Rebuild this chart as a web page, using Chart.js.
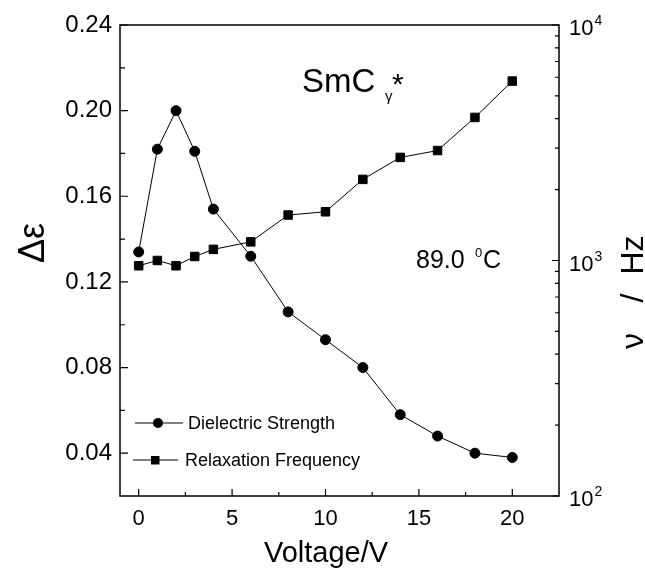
<!DOCTYPE html>
<html>
<head>
<meta charset="utf-8">
<script src="https://cdn.jsdelivr.net/npm/chart.js@4.4.0/dist/chart.umd.min.js"></script>
<style>
  html, body { margin: 0; padding: 0; background: #fff; }
  .chart-container { position: relative; width: 645px; height: 572px; }
</style>
</head>
<body>
<div class="chart-container">
    <canvas id="relaxChart"></canvas>
</div>

<script>
    // values
    const voltage = [0, 1, 2, 3, 4, 6, 8, 10, 12, 14, 16, 18, 20];
    const dielectricStrength = [0.134, 0.182, 0.200, 0.181, 0.154, 0.132, 0.106, 0.093, 0.080, 0.058, 0.048, 0.040, 0.038];
    const relaxationFreq = [950, 1000, 950, 1040, 1115, 1200, 1560, 1610, 2210, 2740, 2930, 4050, 5780];

    const bottomTicks = [0, 5, 10, 15, 20];
    const bottomMinor = [2.5, 7.5, 12.5, 17.5];
    const leftTicks = [0.04, 0.08, 0.12, 0.16, 0.20, 0.24];
    const leftMinor = [0.06, 0.10, 0.14, 0.18, 0.22];
    const rightTicks = [100, 1000, 10000];
    const rightExp = ['2', '3', '4'];

    const FONT = '"Liberation Sans", Arial, Helvetica, sans-serif';

    function toPoints(ys) {
        return voltage.map((v, i) => ({ x: v, y: ys[i] }));
    }

    // frame, inward ticks, right log labels, titles, notes and legend
    const decorations = {
        id: 'decorations',
        afterDraw(chart) {
            const ctx = chart.ctx;
            const a = chart.chartArea;
            const sx = chart.scales.x, sy = chart.scales.y, sr = chart.scales.y1;
            ctx.save();
            ctx.strokeStyle = '#000';
            ctx.fillStyle = '#000';

            ctx.lineWidth = 1.5;
            ctx.strokeRect(a.left, a.top, a.right - a.left, a.bottom - a.top);

            ctx.lineWidth = 1.2;
            ctx.beginPath();
            bottomTicks.forEach(v => { const p = sx.getPixelForValue(v); ctx.moveTo(p, a.bottom); ctx.lineTo(p, a.bottom - 7); });
            bottomMinor.forEach(v => { const p = sx.getPixelForValue(v); ctx.moveTo(p, a.bottom); ctx.lineTo(p, a.bottom - 4); });
            leftTicks.forEach(v => { const p = sy.getPixelForValue(v); ctx.moveTo(a.left, p); ctx.lineTo(a.left + 8, p); });
            leftMinor.forEach(v => { const p = sy.getPixelForValue(v); ctx.moveTo(a.left, p); ctx.lineTo(a.left + 5, p); });
            rightTicks.forEach(v => { const p = sr.getPixelForValue(v); ctx.moveTo(a.right, p); ctx.lineTo(a.right - 7, p); });
            [100, 1000].forEach(dec => {
                for (let k = 2; k <= 9; k++) {
                    const p = sr.getPixelForValue(k * dec);
                    ctx.moveTo(a.right, p); ctx.lineTo(a.right - 4, p);
                }
            });
            ctx.stroke();

            // right axis labels 10^n
            ctx.textAlign = 'left';
            ctx.textBaseline = 'alphabetic';
            rightTicks.forEach((v, i) => {
                const p = sr.getPixelForValue(v);
                ctx.font = '22px ' + FONT;
                ctx.fillText('10', a.right + 10, p + 10);
                const w = ctx.measureText('10').width;
                ctx.font = '14px ' + FONT;
                ctx.fillText(rightExp[i], a.right + 11 + w, p);
            });

            // x title
            ctx.font = '29px ' + FONT;
            ctx.textAlign = 'center';
            ctx.fillText('Voltage/V', 326, 562);

            // left title, rotated
            ctx.save();
            ctx.translate(44, 243);
            ctx.rotate(-Math.PI / 2);
            ctx.font = '36px ' + FONT;
            ctx.textAlign = 'center';
            ctx.fillText('\u0394\u03b5', 0, 0);
            ctx.restore();

            // right title, rotated
            ctx.save();
            ctx.translate(643, 0);
            ctx.rotate(-Math.PI / 2);
            ctx.font = '32px ' + FONT;
            ctx.textAlign = 'center';
            ctx.fillText('Hz', -255, 0);
            ctx.fillText('/', -298, 0);
            ctx.fillText('\u03bd', -341, 0);
            ctx.restore();

            // phase label
            ctx.textAlign = 'left';
            ctx.font = '33px ' + FONT;
            ctx.fillText('SmC', 302, 92);
            ctx.font = '15px ' + FONT;
            ctx.fillText('\u03b3', 385, 101);
            ctx.font = '30px ' + FONT;
            ctx.fillText('*', 392, 94);

            // temperature
            ctx.font = '25px ' + FONT;
            ctx.fillText('89.0', 416, 268);
            ctx.font = '13px ' + FONT;
            ctx.fillText('0', 475, 257);
            ctx.font = '25px ' + FONT;
            ctx.fillText('C', 483, 268);

            // legend
            ctx.lineWidth = 1;
            ctx.beginPath();
            ctx.moveTo(135, 423); ctx.lineTo(183, 423);
            ctx.moveTo(133, 460); ctx.lineTo(178, 460);
            ctx.stroke();
            ctx.beginPath();
            ctx.arc(158, 423, 5, 0, Math.PI * 2);
            ctx.fill();
            ctx.fillRect(151, 456, 8.5, 8.5);
            ctx.font = '18px ' + FONT;
            ctx.fillText('Dielectric Strength', 188, 429);
            ctx.fillText('Relaxation Frequency', 185, 466);

            ctx.restore();
        }
    };

    const ctx = document.getElementById('relaxChart').getContext('2d');
    const chart = new Chart(ctx, {
        type: 'line',
        data: {
            datasets: [{
                label: 'Dielectric Strength',
                data: toPoints(dielectricStrength),
                yAxisID: 'y',
                borderColor: '#000',
                backgroundColor: '#000',
                borderWidth: 1,
                pointStyle: 'circle',
                pointRadius: 5,
                tension: 0
            }, {
                label: 'Relaxation Frequency',
                data: toPoints(relaxationFreq),
                yAxisID: 'y1',
                borderColor: '#000',
                backgroundColor: '#000',
                borderWidth: 1,
                pointStyle: 'rect',
                pointRadius: 6,
                tension: 0
            }]
        },
        options: {
            responsive: true,
            maintainAspectRatio: false,
            animation: false,
            layout: { padding: { top: 25, left: 0, right: 0, bottom: 0 } },
            plugins: {
                legend: { display: false },
                tooltip: { enabled: false }
            },
            scales: {
                x: {
                    type: 'linear',
                    min: -1,
                    max: 22.5,
                    grid: { display: false, drawTicks: false },
                    border: { display: false },
                    afterBuildTicks: s => { s.ticks = bottomTicks.map(v => ({ value: v })); },
                    afterFit: s => { s.height = 76; },
                    ticks: {
                        color: '#000',
                        padding: 10,
                        maxRotation: 0,
                        font: { size: 22, family: FONT }
                    }
                },
                y: {
                    type: 'linear',
                    position: 'left',
                    min: 0.02,
                    max: 0.24,
                    grid: { display: false, drawTicks: false },
                    border: { display: false },
                    afterBuildTicks: s => { s.ticks = leftTicks.map(v => ({ value: v })); },
                    afterFit: s => { s.width = 120; },
                    ticks: {
                        color: '#000',
                        padding: 8,
                        font: { size: 24, family: FONT },
                        callback: v => v.toFixed(2)
                    }
                },
                y1: {
                    type: 'logarithmic',
                    position: 'right',
                    min: 100,
                    max: 10000,
                    grid: { display: false, drawTicks: false },
                    border: { display: false },
                    afterFit: s => { s.width = 86; },
                    ticks: { display: false }
                }
            }
        },
        plugins: [decorations]
    });
</script>
</body>
</html>
